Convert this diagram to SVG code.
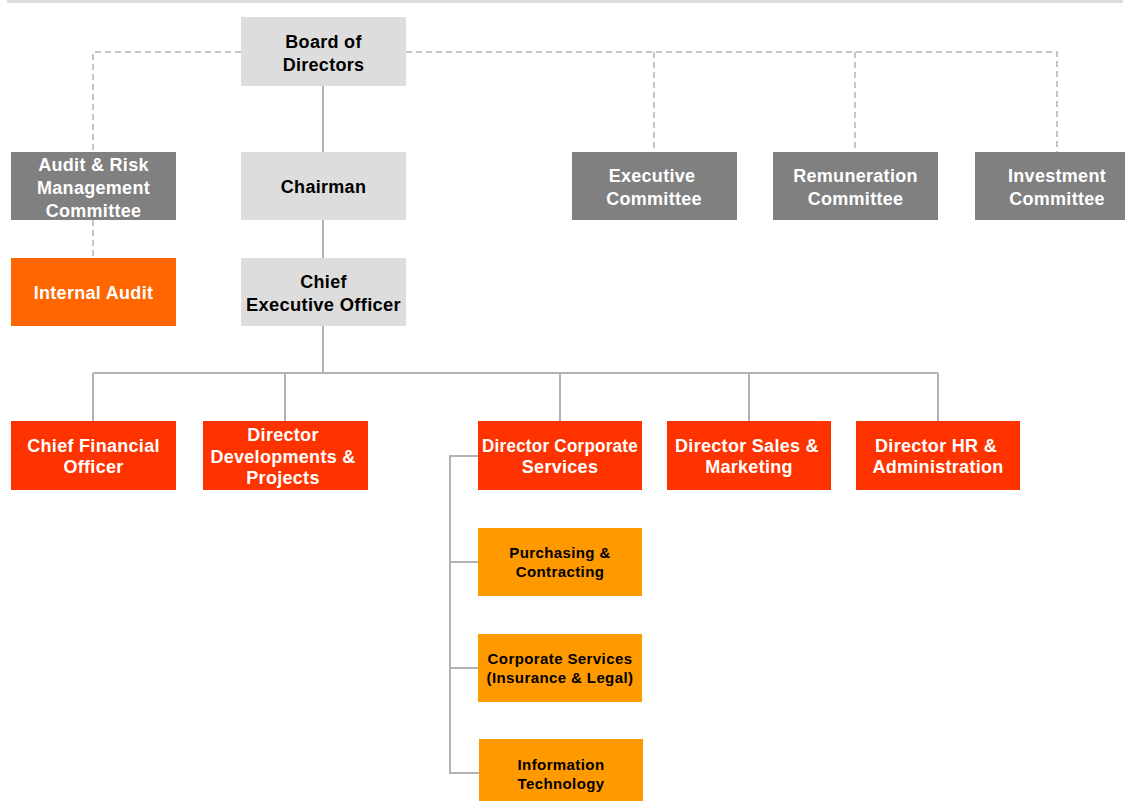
<svg xmlns="http://www.w3.org/2000/svg" width="1125" height="801" viewBox="0 0 1125 801">
<style>
text{font-family:"Liberation Sans",Arial,sans-serif;font-weight:bold;text-anchor:middle}
.t{font-size:18px;letter-spacing:0.3px}
.s{font-size:15px;letter-spacing:0.4px}
.lg{fill:#dddddd}
.dg{fill:#808080}
.ia{fill:#ff6600}
.rd{fill:#ff3300}
.or{fill:#ff9900}
.w{fill:#ffffff}
.k{fill:#000000}
.sol{stroke:#b3b3b3;stroke-width:2;fill:none}
.dash{stroke:#b3b3b3;stroke-width:1.5;fill:none;stroke-dasharray:6,4}
</style>
<rect width="1125" height="801" fill="#ffffff"/>
<rect x="7" y="0" width="1116" height="3" fill="#dddddd"/>
<g id="connectors">
<path class="dash" d="M241,52H93V152M406,52H1057V152M654,52V152M855,52V152M93,220V258"/>
<path class="sol" d="M323,86V152M323,220V258M323,326V373M93,373H938M93,373V421M285,373V421M560,373V421M749,373V421M938,373V421"/>
<path class="sol" d="M478,456H450V773H479M450,562H478M450,668H478"/>
</g>
<g id="board"><rect class="lg" x="241" y="17" width="165" height="69"/><text class="t k" x="323.5" y="48">Board of</text><text class="t k" x="323.5" y="71">Directors</text></g>
<g id="chairman"><rect class="lg" x="241" y="152" width="165" height="68"/><text class="t k" x="323.5" y="193">Chairman</text></g>
<g id="ceo"><rect class="lg" x="241" y="258" width="165" height="68"/><text class="t k" x="323.5" y="288">Chief</text><text class="t k" x="323.5" y="311" textLength="155" lengthAdjust="spacingAndGlyphs">Executive Officer</text></g>
<g id="audit-risk"><rect class="dg" x="11" y="152" width="165" height="68"/><text class="t w" x="93.5" y="171">Audit &amp; Risk</text><text class="t w" x="93.5" y="194">Management</text><text class="t w" x="93.5" y="217">Committee</text></g>
<g id="internal-audit"><rect class="ia" x="11" y="258" width="165" height="68"/><text class="t w" x="93.5" y="299">Internal Audit</text></g>
<g id="executive"><rect class="dg" x="572" y="152" width="165" height="68"/><text class="t w" x="652" y="182">Executive</text><text class="t w" x="654" y="205">Committee</text></g>
<g id="remuneration"><rect class="dg" x="773" y="152" width="165" height="68"/><text class="t w" x="855.5" y="182">Remuneration</text><text class="t w" x="855.5" y="205">Committee</text></g>
<g id="investment"><rect class="dg" x="975" y="152" width="150" height="68"/><text class="t w" x="1057" y="182">Investment</text><text class="t w" x="1057" y="205">Committee</text></g>
<g id="cfo"><rect class="rd" x="11" y="421" width="165" height="69"/><text class="t w" x="93.5" y="452">Chief Financial</text><text class="t w" x="93.5" y="473">Officer</text></g>
<g id="dir-dev"><rect class="rd" x="203" y="421" width="165" height="69"/><text class="t w" x="283" y="441">Director</text><text class="t w" x="283" y="463">Developments &amp;</text><text class="t w" x="283" y="484">Projects</text></g>
<g id="dir-corp"><rect class="rd" x="478" y="421" width="164" height="69"/><text class="t w" x="560" y="452" textLength="156" lengthAdjust="spacingAndGlyphs">Director Corporate</text><text class="t w" x="560" y="473">Services</text></g>
<g id="dir-sales"><rect class="rd" x="667" y="421" width="164" height="69"/><text class="t w" x="747" y="452">Director Sales &amp;</text><text class="t w" x="749" y="473">Marketing</text></g>
<g id="dir-hr"><rect class="rd" x="856" y="421" width="164" height="69"/><text class="t w" x="936" y="452">Director HR &amp;</text><text class="t w" x="938" y="473">Administration</text></g>
<g id="purchasing"><rect class="or" x="478" y="528" width="164" height="68"/><text class="s k" x="560" y="558">Purchasing &amp;</text><text class="s k" x="560" y="577">Contracting</text></g>
<g id="corp-services"><rect class="or" x="478" y="634" width="164" height="68"/><text class="s k" x="560" y="664">Corporate Services</text><text class="s k" x="560" y="683">(Insurance &amp; Legal)</text></g>
<g id="it"><rect class="or" x="479" y="739" width="164" height="62"/><text class="s k" x="561" y="770">Information</text><text class="s k" x="561" y="789">Technology</text></g>
</svg>
